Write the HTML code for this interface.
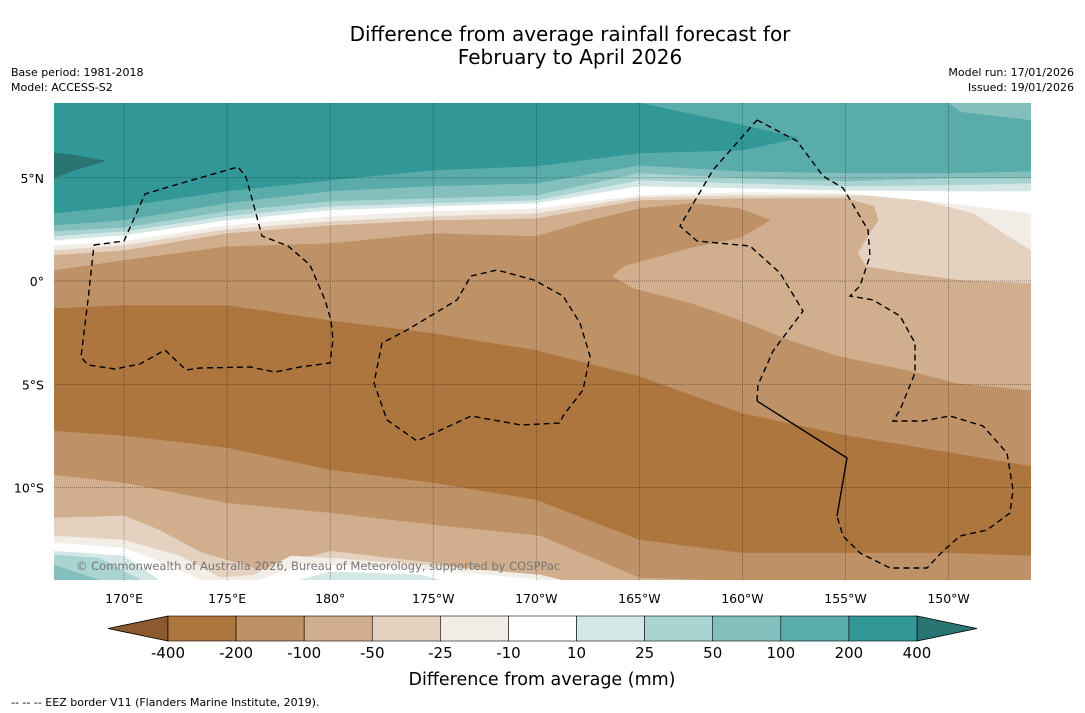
<!DOCTYPE html>
<html><head><meta charset="utf-8">
<style>
body{margin:0;background:#fff;width:1085px;height:713px;overflow:hidden;font-family:"DejaVu Sans","Liberation Sans",sans-serif}
svg{position:absolute;left:0;top:0;font-family:"DejaVu Sans","Liberation Sans",sans-serif}
</style></head>
<body>
<svg id="chart" width="1085" height="713" viewBox="0 0 1085 713" xmlns="http://www.w3.org/2000/svg">
<text x="570" y="41" font-size="20" text-anchor="middle" fill="#000">Difference from average rainfall forecast for</text>
<text x="570" y="64" font-size="20" text-anchor="middle" fill="#000">February to April 2026</text>
<text x="11" y="76" font-size="11">Base period: 1981-2018</text>
<text x="11" y="91" font-size="11">Model: ACCESS-S2</text>
<text x="1074" y="76" font-size="11" text-anchor="end">Model run: 17/01/2026</text>
<text x="1074" y="91" font-size="11" text-anchor="end">Issued: 19/01/2026</text>
<defs><clipPath id="mapclip"><rect x="54" y="103" width="977" height="477"/></clipPath></defs>
<g id="map" clip-path="url(#mapclip)"></g>
<g id="eez" clip-path="url(#mapclip)" fill="none" stroke="#000" stroke-width="1.4" stroke-dasharray="6,4">
<polyline points="94,245 124,241 145,194 175,185 238,167 246,177 255,210 262,236 288,246 310,265 325,300 331,320 333,340 330,363 300,367 275,372 250,367 200,368 186,370 165,350 140,364 115,369 88,365 81,357 88,300 94,245"/>
<polyline points="471,276 497,270 534,280 563,296 580,323 590,356 583,390 563,416 560,423 521,425 471,416 417,441 387,420 374,383 382,343 407,330 457,300 471,276"/>
<polyline points="757,120 797,141 823,176 843,188 868,230 870,256 860,286 850,296 873,300 900,316 915,343 915,373 900,410 893,421 923,421 950,416 983,426 1007,453 1013,490 1010,513 987,530 960,536 943,551 927,568 890,568 860,553 843,536 837,516"/>
<polyline stroke-dasharray="none" points="837,516 847,458 757,401"/>
<polyline points="757,401 758,385 773,351 803,311 780,273 750,246 697,241 680,226 713,170 757,120"/>
</g>
<text x="76" y="570" font-size="11.5" fill="#777">© Commonwealth of Australia 2026, Bureau of Meteorology, supported by COSPPac</text>
<g id="axes"></g>
<g id="cbar"></g>
<text x="542" y="685" font-size="17.5" text-anchor="middle">Difference from average (mm)</text>
<text x="11" y="706" font-size="11">--  --  -- EEZ border V11 (Flanders Marine Institute, 2019).</text>
</svg>
<script>
// ---- map extent ----
const lonMin = 166.6, lonMax = 214.0, latMax = 8.62, latMin = -14.47;
const W = lonMin, E = lonMax, TOP = latMax, BOT = latMin;
// ---- colour levels ----
const levelLabels = ["-400","-200","-100","-50","-25","-10","10","25","50","100","200","400"];
const bandColors = ["#AE763F","#BE9166","#D1AE8E","#E4D1BF","#F2EDE7","#FFFFFF","#D3E8E6","#A9D4D1","#83C0BD","#5AACAB","#329897"];
const lowColor = "#8C5A2E", highColor = "#287572";
// ---- tick data ----
const lonTicks = [170,175,180,185,190,195,200,205,210];
const lonTickLabels = ["170°E","175°E","180°","175°W","170°W","165°W","160°W","155°W","150°W"];
const latTicks = [5,0,-5,-10];
const latTickLabels = ["5°N","0°","5°S","10°S"];
// ---- contour regions [lon,lat] (value >= level) ----
const regM200N = [[W,TOP],[166.6,-1.31],[170,-1.16],[175,-1.16],[180,-1.89],[185,-2.52],[190,-3.34],[195,-4.60],[200,-6.39],[205,-7.45],[210,-8.28],[214,-8.95],[E,TOP]];
const regM200S = [[W,BOT],[166.6,-7.26],[170,-7.50],[175,-8.08],[180,-9.15],[185,-9.78],[190,-10.60],[195,-12.54],[200,-13.17],[205,-13.17],[210,-13.17],[214,-13.31],[E,BOT]];
const regM100N = [[W,TOP],[166.6,0.53],[170,1.02],[175,1.69],[180,1.84],[185,2.32],[190,2.18],[192.6,2.95],[195,3.53],[197.5,3.78],[199.9,3.53],[201.4,2.95],[199.9,2.08],[197.5,1.60],[194.3,0.73],[193.7,0.24],[194.7,-0.34],[197.5,-1.06],[199.9,-1.89],[202.3,-2.86],[204.7,-3.63],[208.0,-4.31],[210.4,-4.94],[214,-5.28],[E,TOP]];
const regM100S = [[W,BOT],[166.6,-9.39],[170,-9.78],[175,-10.75],[180,-11.23],[185,-11.81],[190.2,-12.34],[195,-14.37],[198,BOT]];
const regM50N = [[W,TOP],[166.6,1.26],[170,1.50],[175,2.32],[180,2.71],[185,2.95],[190,3.05],[195,3.92],[200,4.02],[205,4.02],[206.4,3.63],[206.6,2.95],[205.6,1.36],[206.0,0.73],[208.0,0.39],[210.6,0.05],[214,-0.10],[E,TOP]];
const regM50S = [[W,BOT],[166.6,-11.47],[170,-11.37],[171.7,-12.05],[173.7,-13.12],[176.6,-13.99],[180,-13.07],[185,-13.65],[187.3,-14.08],[190.2,BOT]];
const regM25N = [[W,TOP],[166.6,1.50],[170,1.74],[175,2.52],[180,2.90],[185,3.15],[190,3.29],[195,4.07],[200,4.16],[205,4.16],[207.7,4.16],[211.2,3.29],[212.9,2.18],[214,1.50],[E,TOP]];
const regM25S = [[W,BOT],[166.6,-12.34],[170,-12.54],[172.7,-13.31],[174.7,-14.37],[176.3,-14.23],[178.1,-13.31],[180,-13.41],[185,-13.79],[190.2,-14.23],[191.2,BOT]];
const regM10N = [[W,TOP],[166.6,1.74],[170,1.94],[175,2.71],[180,3.15],[185,3.39],[190,3.53],[195,4.16],[200,4.31],[205,4.26],[210,3.78],[214,3.29],[E,TOP]];
const regM10S1 = [[W,BOT],[166.6,-12.68],[170,-12.92],[172.2,-13.75],[173.7,BOT]];
const regM10S2 = [[176.6,BOT],[178.5,-13.75],[180,-13.75],[185,-13.99],[189.2,-14.37],[190.4,BOT]];
const reg10N = [[W,TOP],[166.6,1.98],[170,2.23],[175,2.95],[180,3.44],[185,3.63],[190,3.78],[195,4.60],[200,4.50],[205,4.40],[210,4.36],[214,4.36],[E,TOP]];
const reg10S1 = [[W,BOT],[166.6,-13.07],[170,-13.31],[171.7,BOT]];
const reg10S2 = [[178.5,BOT],[180,-14.08],[184.4,-14.23],[185.3,BOT]];
const reg25N = [[W,TOP],[166.6,2.18],[170,2.42],[175,3.15],[180,3.63],[185,3.78],[190,3.92],[195,4.89],[200,4.74],[205,4.60],[210,4.65],[214,4.74],[E,TOP]];
const reg25S = [[W,BOT],[166.6,-13.26],[168.8,-13.41],[170.8,BOT]];
const reg50N = [[W,TOP],[166.6,2.42],[170,2.61],[175,3.39],[180,3.87],[185,4.02],[190,4.16],[195,5.23],[200,4.99],[205,4.84],[210,4.99],[214,4.99],[E,TOP]];
const reg50S = [[W,BOT],[166.6,-13.75],[167.6,-14.08],[168.8,BOT]];
const reg100N = [[W,TOP],[166.6,2.71],[170,2.95],[175,3.78],[180,4.36],[185,4.60],[190,4.74],[195,5.61],[200,5.32],[205,5.23],[210,5.23],[214,5.32],[E,TOP]];
const patch50 = [[210,TOP],[210.6,8.2],[214,7.8],[E,TOP]];
const reg200N = [[W,TOP],[166.6,3.29],[170,3.63],[175,4.36],[180,4.89],[185,5.37],[190,5.57],[195,6.20],[200,6.34],[202.7,6.92],[200,7.55],[195,TOP]];
const reg400 = [[166.6,6.20],[167.6,6.10],[169.1,5.81],[167.6,5.37],[166.6,4.99]];

const NS = "http://www.w3.org/2000/svg";
const X0 = 54, X1 = 1031, Y0 = 103, Y1 = 580;
function xScale(lon){ return X0 + (lon - lonMin) / (lonMax - lonMin) * (X1 - X0); }
function yScale(lat){ return Y0 + (latMax - lat) / (latMax - latMin) * (Y1 - Y0); }
function mk(tag, attrs, parent){ const e = document.createElementNS(NS, tag); for (const k in attrs) e.setAttribute(k, attrs[k]); parent.appendChild(e); return e; }

const map = document.getElementById('map');
const bg = mk('rect', {x:X0, y:Y0, width:X1-X0, height:Y1-Y0, fill:bandColors[0]}, map);



const layers = [
 [regM200N,1,'band-minus200-north'],[regM200S,1,'band-minus200-south'],
 [regM100N,2,'band-minus100-north'],[regM100S,2,'band-minus100-south'],
 [regM50N,3,'band-minus50-north'],[regM50S,3,'band-minus50-south'],
 [regM25N,4,'band-minus25-north'],[regM25S,4,'band-minus25-south'],
 [regM10N,5,'band-neutral-north'],[regM10S1,5,'band-neutral-south'],[regM10S2,5,'band-neutral-south-2'],
 [reg10N,6,'band-10-north'],[reg10S1,6,'band-10-south'],[reg10S2,6,'band-10-south-2'],
 [reg25N,7,'band-25-north'],[reg25S,7,'band-25-south'],
 [reg50N,8,'band-50-north'],[reg50S,8,'band-50-south'],
 [reg100N,9,'band-100-north'],[patch50,8,'band-50-patch'],
 [reg200N,10,'band-200-north'],[reg400,-1,'band-above-400']
];
layers.forEach(l => {
  const pts = l[0].map(p => xScale(p[0]).toFixed(1) + ',' + yScale(p[1]).toFixed(1)).join(' ');
  const col = l[1] < 0 ? highColor : bandColors[l[1]];
  const poly = mk('polygon', {points:pts, fill:col, stroke:col, 'stroke-width':0.5}, map);
  
  
});
// grid
lonTicks.forEach(lon => {
  const ln = mk('line', {x1:xScale(lon), x2:xScale(lon), y1:Y0, y2:Y1, stroke:'rgba(0,0,0,0.45)', 'stroke-width':0.8, 'stroke-dasharray':'1,1'}, map);
  
  
});
latTicks.forEach(lat => {
  const ln = mk('line', {x1:X0, x2:X1, y1:yScale(lat), y2:yScale(lat), stroke:'rgba(0,0,0,0.45)', 'stroke-width':0.8, 'stroke-dasharray':'1,1'}, map);
  
  
});
// axis labels
const axes = document.getElementById('axes');
lonTicks.forEach((lon, i) => {
  const t = mk('text', {x:xScale(lon), y:603, 'font-size':12.5, 'text-anchor':'middle'}, axes);
  t.textContent = lonTickLabels[i];
  
  
});
latTicks.forEach((lat, i) => {
  const t = mk('text', {x:44, y:yScale(lat)+5, 'font-size':12.5, 'text-anchor':'end'}, axes);
  t.textContent = latTickLabels[i];
  
  
});
// colorbar
const cb = document.getElementById('cbar');
const cbX0 = 168, cbX1 = 917, cbY0 = 616, cbY1 = 641;
const bw = (cbX1 - cbX0) / bandColors.length;
const lt = mk('polygon', {points:`${cbX0},${cbY0} 108,${(cbY0+cbY1)/2} ${cbX0},${cbY1}`, fill:lowColor, stroke:'#000', 'stroke-width':0.8}, cb);


const rt = mk('polygon', {points:`${cbX1},${cbY0} 977,${(cbY0+cbY1)/2} ${cbX1},${cbY1}`, fill:highColor, stroke:'#000', 'stroke-width':0.8}, cb);


bandColors.forEach((c, i) => {
  const r = mk('rect', {x:cbX0 + i*bw, y:cbY0, width:bw, height:cbY1-cbY0, fill:c, stroke:'#000', 'stroke-width':0.6}, cb);
  
  
});
levelLabels.forEach((lab, i) => {
  const t = mk('text', {x:cbX0 + i*bw, y:658, 'font-size':15, 'text-anchor':'middle'}, cb);
  t.textContent = lab;
  
  
});
</script>
</body></html>
